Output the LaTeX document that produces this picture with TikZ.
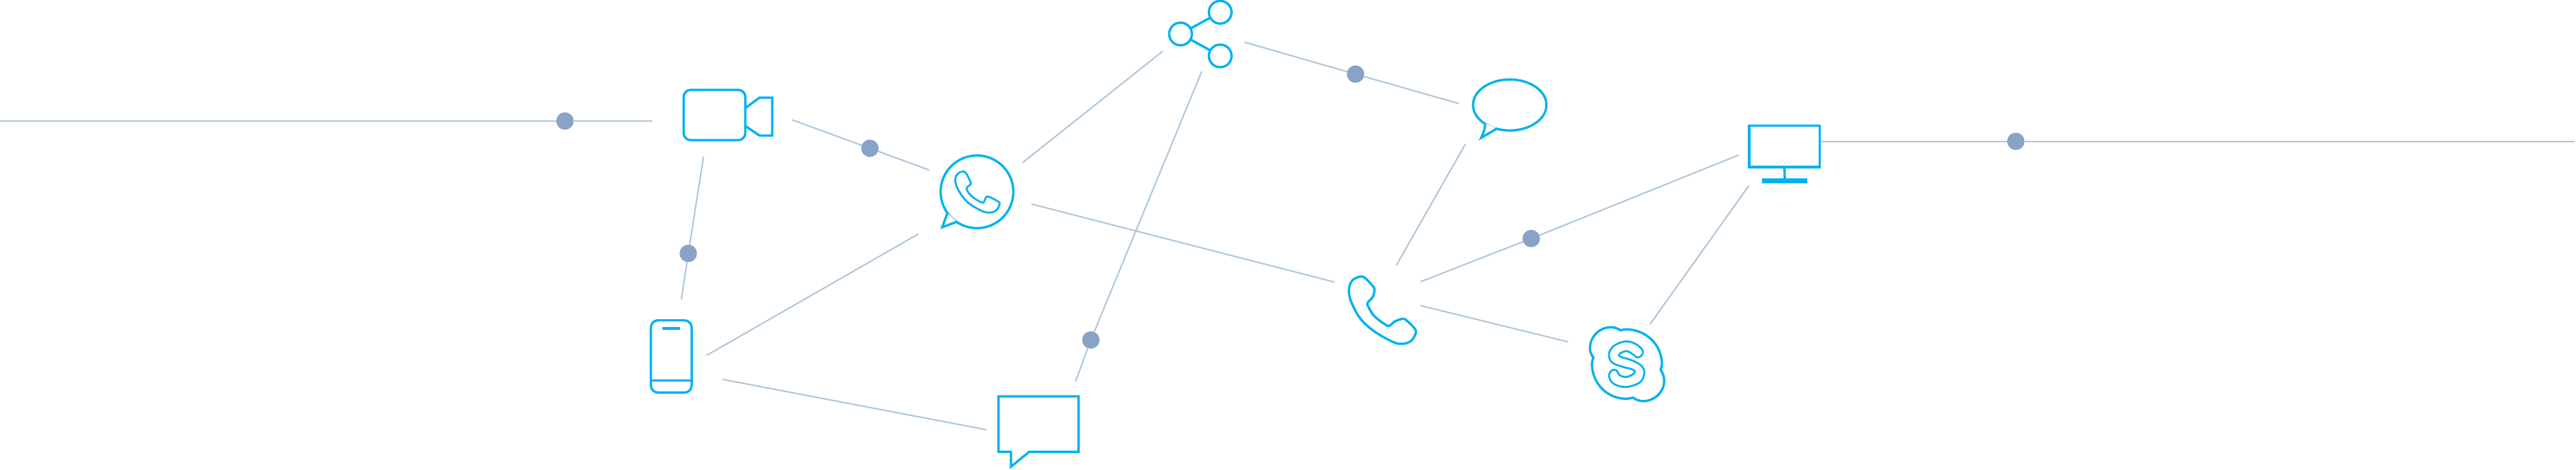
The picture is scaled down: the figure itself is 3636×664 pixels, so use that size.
\documentclass[tikz,border=0pt]{standalone}
\usetikzlibrary{shapes.geometric}
\definecolor{iconblue}{HTML}{00B2F0}
\definecolor{linkgrey}{HTML}{AEC6D9}
\definecolor{dotblue}{HTML}{88A2C8}
\begin{document}
\begin{tikzpicture}[x=0.01cm,y=-0.01cm,
        iconline/.style={draw=iconblue,line width=0.033cm},
        icon/.style={iconline,inner sep=0,outer sep=0},
        tailfill/.style={iconline,fill=white},
        link/.style={draw=linkgrey,line width=0.02cm},
        dot/.style={circle,fill=dotblue,inner sep=0,outer sep=0,minimum size=0.246cm}
        ]
        \useasboundingbox (0,0) rectangle (3636,664);
        % icons
        \node (cam) [icon,rectangle,rounded corners=0.1cm,minimum width=0.87cm,minimum height=0.71cm] at (1008.5,162.5) {};
        \draw[iconline] (1052,152.7) -- (1072,138) -- (1090,138) -- (1090,191.5) -- (1072,191.5) -- (1052,178);
        \node (phone) [icon,rectangle,rounded corners=0.1cm,minimum width=0.575cm,minimum height=1.02cm] at (947.5,503.6) {};
        \draw[iconline] (935,464) -- (960,464);
        \draw[iconline] (919,537.7) -- (976,537.7);
        \draw[iconline] (1409.3,560) -- (1522.3,560) -- (1522.3,638.3) -- (1452.7,638.3) -- (1427,659.3) -- (1427,638.3) -- (1409.3,638.3) -- cycle;
        \node (wapp) [icon,circle,minimum size=1.026cm] at (1379,271) {};
        \draw[tailfill] (1337.3,301) -- (1330,321) -- (1350.7,313.3);
        \begin{scope}[shift={(1320,215)},scale=0.3333]
            \draw[iconline,line width=0.027cm] plot[smooth cycle,tension=0.6] coordinates {(115,82) (130,88) (150,128) (148,138) (133,155) (155,187) (198,214) (208,208) (222,188) (268,210) (272,222) (262,243) (235,256) (195,248) (135,210) (95,155) (85,115) (95,92)};
        \end{scope}
        \node (shc) [icon,circle,minimum size=0.32cm] at (1666.3,48) {};
        \node (sht) [icon,circle,minimum size=0.32cm] at (1722.3,17.3) {};
        \node (shb) [icon,circle,minimum size=0.32cm] at (1722.3,79) {};
        \draw[iconline] (shc) -- (sht);
        \draw[iconline] (shc) -- (shb);
        \node (bubble) [icon,ellipse,minimum width=1.036cm,minimum height=0.72cm] at (2131,148.3) {};
        \draw[tailfill] (2096,174.3) .. controls (2096,182) .. (2090.7,194.7) -- (2113.3,181.3);
        \begin{scope}[shift={(1900,340)},scale=0.3333]
            \draw[iconline] plot[smooth cycle,tension=0.6] coordinates {(60,152) (82,160) (115,195) (120,212) (112,240) (92,262) (93,278) (120,320) (170,358) (187,359) (205,343) (240,331) (257,339) (290,372) (295,392) (275,425) (240,437) (200,430) (120,385) (60,330) (22,260) (12,210) (25,170)};
        \end{scope}
        \draw[iconline] (2249,505) .. controls (2245.5,501) and (2244.3,497) .. (2244.3,491.7)
            .. controls (2244.3,475.5) and (2257.6,462.3) .. (2274,462.3)
            .. controls (2279,462.3) and (2283.5,464) .. (2287.3,466.7)
            .. controls (2290,465.8) and (2292.5,465.3) .. (2295,465.3)
            .. controls (2323,465.3) and (2345.7,487) .. (2345.7,514)
            .. controls (2345.7,517) and (2345,520) .. (2344,522.3)
            .. controls (2347,527) and (2349,532) .. (2349,537.7)
            .. controls (2349,553.7) and (2335.7,566.7) .. (2319.3,566.7)
            .. controls (2314,566.7) and (2309,564.8) .. (2305,561.7)
            .. controls (2302,562.8) and (2298.5,563.3) .. (2295,563.3)
            .. controls (2268,563.3) and (2247,541) .. (2247,514)
            .. controls (2247,511) and (2248,508) .. (2249,505) -- cycle;
        \begin{scope}[shift={(2200,360)},scale=0.3333]
            \draw[iconline,line width=0.027cm] plot[smooth cycle,tension=0.6] coordinates {(285,367) (330,380) (357,408) (350,428) (332,435) (315,422) (287,408) (258,420) (262,432) (310,447) (350,470) (363,500) (345,540) (287,560) (235,548) (213,515) (225,490) (245,490) (258,510) (287,518) (320,502) (315,487) (265,473) (225,455) (213,420) (235,385)};
        \end{scope}
        \node (screen) [icon,rectangle,minimum width=0.993cm,minimum height=0.583cm] at (2518.7,206.8) {};
        \node (base) [icon,rectangle,fill=iconblue,minimum width=0.61cm,minimum height=0.033cm] at (2519.2,255.7) {};
        \draw[iconline] (screen.south) -- (base.north);
        % dots
        \node (d1) [dot] at (797.4,171) {};
        \node (d2) [dot] at (1227.8,209.5) {};
        \node (d3) [dot] at (971.5,358) {};
        \node (d4) [dot] at (1539.7,480.3) {};
        \node (d5) [dot] at (1913.3,104.7) {};
        \node (d6) [dot] at (2161.3,337) {};
        \node (d7) [dot] at (2845.3,199.7) {};
        % free ends of the connectors
        \coordinate (edgeL) at (0,171);
        \coordinate (camW) at (920.6,171);
        \coordinate (camE) at (1118,169.3);
        \coordinate (wappNW) at (1311.7,240.3);
        \coordinate (camS) at (993,221.3);
        \coordinate (phoneN) at (961.7,422.7);
        \coordinate (phoneE) at (997,502.3);
        \coordinate (wappSW) at (1296,330.7);
        \coordinate (phoneSE) at (1020,536);
        \coordinate (msgW) at (1391.7,607);
        \coordinate (wappNE) at (1443.4,229.7);
        \coordinate (shareSW) at (1641.3,72.3);
        \coordinate (wappE) at (1456,288.3);
        \coordinate (telW) at (1884,398.6);
        \coordinate (msgNE) at (1518,539.3);
        \coordinate (shareS) at (1696.3,100.7);
        \coordinate (shareE) at (1757,59.7);
        \coordinate (bubbleW) at (2059.3,146.3);
        \coordinate (bubbleS) at (2068.3,203.7);
        \coordinate (telN) at (1971,374.7);
        \coordinate (telE) at (2005,398);
        \coordinate (screenW) at (2454.3,219);
        \coordinate (telSE) at (2005,431.7);
        \coordinate (skypeW) at (2213.3,483);
        \coordinate (skypeNE) at (2329,458);
        \coordinate (screenSW) at (2468.7,262);
        \coordinate (screenE) at (2570,199.7);
        \coordinate (edgeR) at (3634,199.7);
        % connectors
        \draw[link] (edgeL) -- (d1);
        \draw[link] (d1) -- (camW);
        \draw[link] (camE) -- (d2);
        \draw[link] (d2) -- (wappNW);
        \draw[link] (camS) -- (d3);
        \draw[link] (d3) -- (phoneN);
        \draw[link] (phoneE) -- (wappSW);
        \draw[link] (phoneSE) -- (msgW);
        \draw[link] (wappNE) -- (shareSW);
        \draw[link] (wappE) -- (telW);
        \draw[link] (msgNE) -- (d4);
        \draw[link] (d4) -- (shareS);
        \draw[link] (shareE) -- (d5);
        \draw[link] (d5) -- (bubbleW);
        \draw[link] (bubbleS) -- (telN);
        \draw[link] (telE) -- (d6);
        \draw[link] (d6) -- (screenW);
        \draw[link] (telSE) -- (skypeW);
        \draw[link] (skypeNE) -- (screenSW);
        \draw[link] (screenE) -- (d7);
        \draw[link] (d7) -- (edgeR);
    \end{tikzpicture}
\end{document}
